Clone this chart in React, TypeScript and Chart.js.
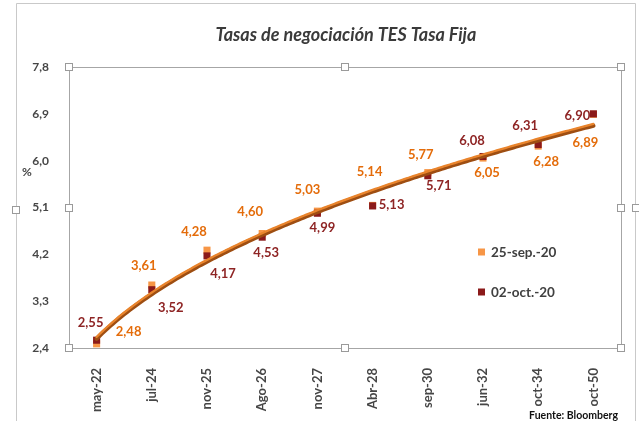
import { useEffect, useRef } from "react";
import { Chart, registerables } from "chart.js";
Chart.register(...registerables);

const title = "Tasas de negociación TES Tasa Fija";
const sourceText = "Fuente: Bloomberg";
const yUnit = "%";
const categories = ["may-22", "jul-24", "nov-25", "Ago-26", "nov-27", "Abr-28", "sep-30", "jun-32", "oct-34", "oct-50"];
const seriesNames = ["25-sep.-20", "02-oct.-20"];
const sep25 = [2.48, 3.61, 4.28, 4.6, 5.03, 5.14, 5.77, 6.05, 6.28, 6.89];
const oct02 = [2.55, 3.52, 4.17, 4.53, 4.99, 5.13, 5.71, 6.08, 6.31, 6.9];
const yTicks = [2.4, 3.3, 4.2, 5.1, 6.0, 6.9, 7.8];

// data-label offsets in px from the marker (style, not data)
const sepLabelOffsets = [[32, -12], [-8, -19], [-13, -18], [-12, -22], [-10, -21], [-3, -34], [-7, -18], [4, 15], [8, 16], [-8, 28]];
const octLabelOffsets = [[-6, -17], [19, 18], [16, 18], [4, 16], [5, 15], [19, -1], [11, 10], [-11, -16], [-13, -19], [-16, 2]];

const ORANGE = "#F79646";
const ORANGE_TXT = "#E46C0A";
const DARK = "#8B1A1A";
const DARK_TXT = "#8E2424";
const AXIS_TXT = "#464646";
const FONT = "Lato";

const fmt2 = (v: number) => v.toFixed(2).replace(".", ",");

function handle(ctx: CanvasRenderingContext2D, x: number, y: number) {
  ctx.fillStyle = "#ffffff";
  ctx.strokeStyle = "#9a9a9a";
  ctx.lineWidth = 1;
  ctx.fillRect(Math.round(x) - 3.5, Math.round(y) - 3.5, 7, 7);
  ctx.strokeRect(Math.round(x) - 3.5, Math.round(y) - 3.5, 7, 7);
}

const deco = {
  id: "deco",
  beforeDraw(chart: any) {
    const { ctx, width, height } = chart;
    ctx.save();
    ctx.fillStyle = "#ffffff";
    ctx.fillRect(0, 0, width, height);
    ctx.strokeStyle = "#c9c9c9";
    ctx.lineWidth = 1;
    ctx.beginPath();
    ctx.moveTo(16.5, height);
    ctx.lineTo(16.5, 3.5);
    ctx.lineTo(width - 3.5, 3.5);
    ctx.moveTo(width - 3.5, 3.5);
    ctx.lineTo(width - 3.5, height);
    ctx.stroke();
    ctx.restore();
  },
  beforeDatasetsDraw(chart: any) {
    const { ctx, chartArea: a } = chart;
    ctx.save();
    ctx.strokeStyle = "#a6a6a6";
    ctx.lineWidth = 1;
    ctx.strokeRect(Math.round(a.left) + 0.5, Math.round(a.top) + 0.5, Math.round(a.right - a.left), Math.round(a.bottom - a.top));
    ctx.restore();
  },
  afterDatasetsDraw(chart: any) {
    const { ctx } = chart;
    const xs = chart.scales.x;
    const ys = chart.scales.y;
    // power trendline fitted on the first series (ln y = ln c + k ln x)
    const lx = sep25.map((_, i) => Math.log(i + 1));
    const ly = sep25.map((v) => Math.log(v));
    const mx = lx.reduce((s, v) => s + v, 0) / lx.length;
    const my = ly.reduce((s, v) => s + v, 0) / ly.length;
    let num = 0, den = 0;
    lx.forEach((v, i) => { num += (v - mx) * (ly[i] - my); den += (v - mx) * (v - mx); });
    const k = num / den;
    const c = Math.exp(my - k * mx);
    const path = (dy: number) => {
      ctx.beginPath();
      for (let t = 0; t <= categories.length - 1 + 1e-9; t += 0.05) {
        const px = xs.getPixelForValue(t);
        const py = ys.getPixelForValue(c * Math.pow(t + 1, k)) + dy;
        if (t === 0) ctx.moveTo(px, py); else ctx.lineTo(px, py);
      }
    };
    ctx.save();
    ctx.lineCap = "round";
    ctx.lineJoin = "round";
    path(0.8);
    ctx.strokeStyle = "#9E4E12";
    ctx.lineWidth = 4.2;
    ctx.stroke();
    path(-0.9);
    ctx.strokeStyle = "#E9842C";
    ctx.lineWidth = 2.3;
    ctx.stroke();

    // data labels
    ctx.font = `bold 13px ${FONT}`;
    ctx.textAlign = "center";
    ctx.textBaseline = "middle";
    const drawLabels = (dsIndex: number, vals: number[], offs: number[][], color: string) => {
      const meta = chart.getDatasetMeta(dsIndex);
      ctx.fillStyle = color;
      meta.data.forEach((pt: any, i: number) => {
        ctx.fillText(fmt2(vals[i]), pt.x + offs[i][0], pt.y + offs[i][1]);
      });
    };
    drawLabels(0, sep25, sepLabelOffsets, ORANGE_TXT);
    drawLabels(1, oct02, octLabelOffsets, DARK_TXT);
    ctx.restore();
  },
  afterDraw(chart: any) {
    const { ctx, chartArea: a, width, height } = chart;
    ctx.save();
    // title
    ctx.fillStyle = "#3a3a3a";
    ctx.font = `italic bold 18px ${FONT}`;
    ctx.textAlign = "center";
    ctx.textBaseline = "alphabetic";
    ctx.fillText(title, (a.left + a.right) / 2 + 1, 41);
    // unit
    ctx.font = `bold 12px ${FONT}`;
    ctx.fillStyle = AXIS_TXT;
    ctx.textBaseline = "middle";
    ctx.fillText(yUnit, 27, a.top + (a.bottom - a.top) * 0.375);
    // legend
    const colors = [ORANGE, DARK];
    ctx.font = `bold 13.5px ${FONT}`;
    ctx.textAlign = "left";
    seriesNames.forEach((n, i) => {
      const ly = a.top + 185 + i * 40;
      const lx = a.left + 409;
      ctx.fillStyle = colors[i];
      ctx.fillRect(lx, ly - 3.5, 7, 7);
      ctx.fillStyle = "#404040";
      ctx.fillText(n, lx + 13, ly + 0.5);
    });
    // source
    ctx.font = `bold 10.5px ${FONT}`;
    ctx.fillStyle = "#111111";
    ctx.textAlign = "right";
    ctx.textBaseline = "middle";
    ctx.fillText(sourceText, width - 21, height - 5);
    // selection handles
    const mxp = (a.left + a.right) / 2;
    const myp = (a.top + a.bottom) / 2;
    [[a.left, a.top], [mxp, a.top], [a.right, a.top], [a.left, myp], [a.right, myp], [a.left, a.bottom], [mxp, a.bottom], [a.right, a.bottom]].forEach(([x, y]) => handle(ctx, x, y));
    handle(ctx, 16, myp + 2);
    handle(ctx, width - 3, myp);
    ctx.restore();
  },
};

export default function App() {
  const ref = useRef<HTMLCanvasElement | null>(null);
  useEffect(() => {
    document.body.style.margin = "0";
    const chart = new Chart(ref.current as HTMLCanvasElement, {
      type: "line",
      data: {
        labels: categories,
        datasets: [
          {
            label: seriesNames[0],
            data: sep25,
            showLine: false,
            pointStyle: "rect",
            pointRadius: 5,
            pointHoverRadius: 5,
            pointBorderWidth: 0,
            pointBackgroundColor: ORANGE,
            pointBorderColor: ORANGE,
            order: 2,
          },
          {
            label: seriesNames[1],
            data: oct02,
            showLine: false,
            pointStyle: "rect",
            pointRadius: 5,
            pointHoverRadius: 5,
            pointBorderWidth: 0,
            pointBackgroundColor: DARK,
            pointBorderColor: DARK,
            order: 1,
          },
        ],
      },
      options: {
        animation: false,
        responsive: true,
        maintainAspectRatio: false,
        layout: { padding: { top: 67, right: 18, left: 0, bottom: 0 } },
        plugins: { legend: { display: false }, tooltip: { enabled: false }, title: { display: false } },
        scales: {
          x: {
            type: "category",
            offset: true,
            grid: { display: false },
            border: { display: false },
            ticks: {
              autoSkip: false,
              minRotation: 90,
              maxRotation: 90,
              padding: 12,
              color: AXIS_TXT,
              font: { family: FONT, weight: "bold", size: 13 },
            },
            afterFit(s: any) { s.height = 73; },
          },
          y: {
            min: 2.4,
            max: 7.8,
            afterBuildTicks(s: any) { s.ticks = yTicks.map((v) => ({ value: v })); },
            grid: { display: false },
            border: { display: false },
            ticks: {
              padding: 12,
              color: AXIS_TXT,
              font: { family: FONT, weight: "bold", size: 12 },
              callback: (v: any) => Number(v).toFixed(1).replace(".", ","),
            },
            afterFit(s: any) { s.width = 69; },
          },
        },
      } as any,
      plugins: [deco],
    });
    return () => chart.destroy();
  }, []);
  return (
    <div style={{ position: "fixed", left: 0, top: 0, width: 639, height: 421 }}>
      <canvas ref={ref} />
    </div>
  );
}
